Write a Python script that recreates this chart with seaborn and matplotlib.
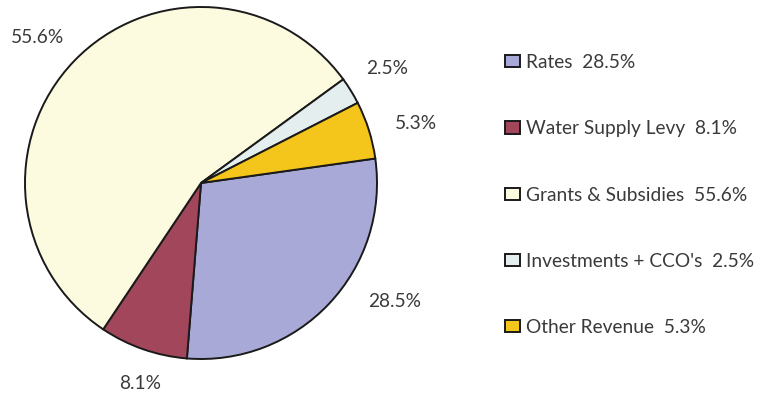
import numpy as np
import matplotlib
matplotlib.use("Agg")
import matplotlib.pyplot as plt
import seaborn as sns

# Revenue sources and their shares (%)
categories = ["Rates", "Water Supply Levy", "Grants & Subsidies", "Investments + CCO's", "Other Revenue"]
shares = [28.5, 8.1, 55.6, 2.5, 5.3]
slice_colors = ["#A9A9D7", "#A2465B", "#FCFBE0", "#E5EEEE", "#F4C51A"]

sns.set_theme(style="white")
plt.rcParams["font.family"] = ["Lato", "DejaVu Sans"]

W, H = 757, 397
fig = plt.figure(figsize=(W / 100, H / 100), dpi=100)
fig.patch.set_facecolor("white")

# axes box sized so the pie of radius 1 fills it
cx, cy, r = 201, 183, 176
ax = fig.add_axes([(cx - r) / W, (H - cy - r) / H, 2 * r / W, 2 * r / H])

wedges, _ = ax.pie(
    shares,
    colors=slice_colors,
    startangle=8,
    counterclock=False,
    radius=1.0,
    wedgeprops=dict(edgecolor="#1a1a1a", linewidth=1.4),
)
ax.set_xlim(-1, 1)
ax.set_ylim(-1, 1)
ax.set_aspect("equal")
ax.axis("off")

# percentage labels outside each slice
angle_shift = [11.8, 2.2, 2.2, 0, -2]
label_dist = [1.29, 1.19, 1.24, 1.24, 1.27]
for w, val, da, d in zip(wedges, shares, angle_shift, label_dist):
    mid = np.deg2rad((w.theta1 + w.theta2) / 2 + da)
    ax.text(d * np.cos(mid), d * np.sin(mid), f"{val:.1f}%",
            ha="center", va="center", fontsize=13.8, color="#3a3a3a", clip_on=False)

legend_labels = [f"{c}  {v:.1f}%" for c, v in zip(categories, shares)]
leg = fig.legend(
    wedges, legend_labels,
    loc="upper left", bbox_to_anchor=(505 / W, 1 - 54 / H),
    frameon=False, fontsize=13.8, labelcolor="#3a3a3a",
    handlelength=0.8, handleheight=0.62, handletextpad=0.28,
    labelspacing=2.57, borderaxespad=0, borderpad=0,
)
for h in leg.legend_handles:
    h.set_edgecolor("#1a1a1a")
    h.set_linewidth(1.4)

fig.savefig("out.png", dpi=100, facecolor="white")
